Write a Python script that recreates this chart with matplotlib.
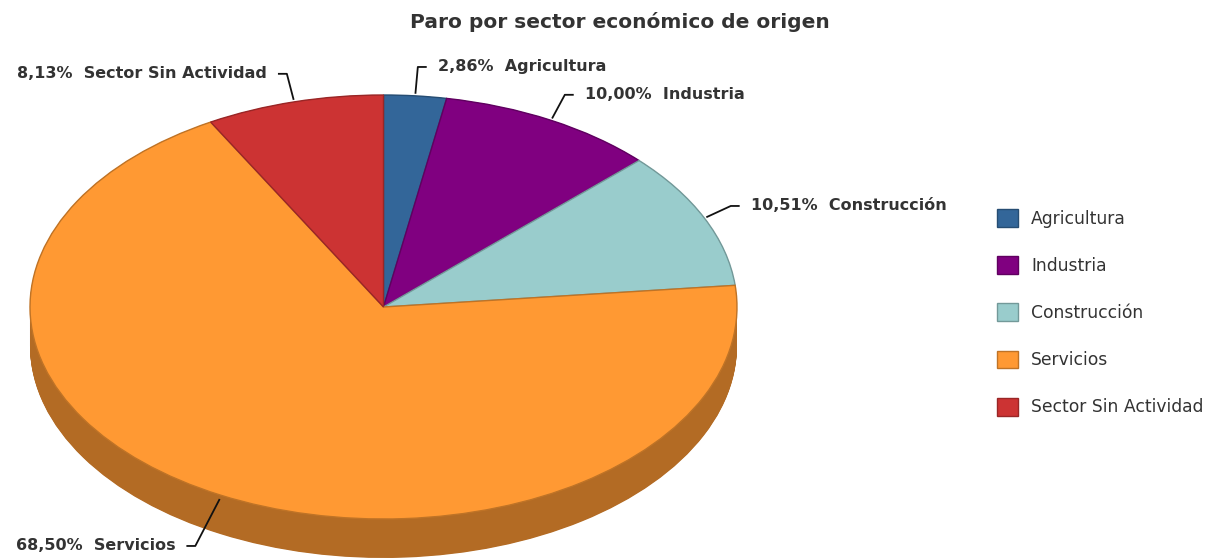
import numpy as np
import matplotlib.pyplot as plt
from matplotlib.colors import to_rgb

sectores = ['Agricultura', 'Industria', 'Construcción', 'Servicios', 'Sector Sin Actividad']
porcentajes = [2.86, 10.00, 10.51, 68.50, 8.13]
etiquetas = ['2,86%', '10,00%', '10,51%', '68,50%', '8,13%']
colores = ['#336699', '#800080', '#99CCCC', '#FF9933', '#CC3333']
titulo = 'Paro por sector económico de origen'


def oscurecer(c, f=0.7):
    return tuple(v * f for v in to_rgb(c))


W, H = 1206, 560
fig = plt.figure(figsize=(W / 100, H / 100), dpi=100)
ax = fig.add_axes([0, 0, 1, 1])

# pixel geometry of the top ellipse
cx, cy = 383.5, 307
rx, ry = 353.5, 212
depth = 39 / ry

# side of the 3d pie: stacked pies, darker
for d in np.linspace(depth, 0, 60):
    ax.pie(porcentajes, colors=[oscurecer(c) for c in colores], startangle=90,
           counterclock=False, center=(0, -d), wedgeprops=dict(linewidth=0))

wedges, _ = ax.pie(porcentajes, colors=colores, startangle=90,
                   counterclock=False, wedgeprops=dict(linewidth=1))
for w, c in zip(wedges, colores):
    w.set_edgecolor(oscurecer(c, 0.75))

ax.set_aspect('auto')
ax.set_xlim(-cx / rx, (W - cx) / rx)
ax.set_ylim(-(H - cy) / ry, cy / ry)
ax.axis('off')

# labels with leader lines
total = sum(porcentajes)
acum = 0
for p, et, nom in zip(porcentajes, etiquetas, sectores):
    th = np.deg2rad(90 - (acum + p / 2) / total * 360)
    acum += p
    c, s = np.cos(th), np.sin(th)
    dx, dy = c * rx * 0.6, s * ry
    n = np.hypot(dx, dy)
    ux, uy = dx / n, dy / n
    x0 = c + 3 * ux / rx
    y0 = s + 3 * uy / ry
    largo = 26
    if s < 0:
        y0 -= 2 / ry
        largo = 52
    x1 = x0 + largo * ux / rx
    y1 = y0 + largo * uy / ry
    sg = 1 if c >= 0 else -1
    x2 = x1 + sg * 8 / rx
    ax.plot([x0, x1, x2], [y0, y1, y1], color='#111111', lw=1.3, clip_on=False)
    ax.text(x2 + sg * 12 / rx, y1, f'{et}  {nom}', ha='left' if sg > 0 else 'right',
            va='center', fontsize=11.5, fontweight='bold', color='#333333')

fig.text(620 / W, 1 - 22 / H, titulo, ha='center', va='center', fontsize=14.5,
         fontweight='bold', color='#333333')

fig.legend(wedges, sectores, loc='upper left', bbox_to_anchor=(997 / W, 1 - 209 / H),
           frameon=False, fontsize=12.3, handlelength=1.23, handleheight=1.23,
           handletextpad=0.76, labelspacing=1.67, borderaxespad=0, borderpad=0,
           labelcolor='#333333')

fig.savefig('out.png', dpi=100)
